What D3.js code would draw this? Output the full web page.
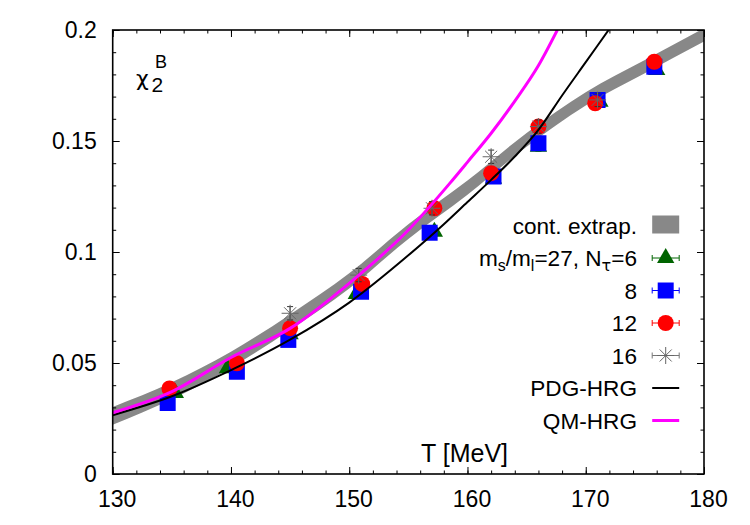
<!DOCTYPE html>
<html>
<head>
<meta charset="utf-8">
<script src="https://cdn.jsdelivr.net/npm/d3@7"></script>
<style>
  body { margin: 0; background: #fff; }
  svg { display: block; font-family: "Liberation Sans", Arial, Helvetica, sans-serif; }
</style>
</head>
<body>
<svg id="chart" width="750" height="525"></svg>
<script>
// ---------------- data ----------------
const xTicks = [130, 140, 150, 160, 170, 180];
const yTicks = [0, 0.05, 0.1, 0.15, 0.2];

// continuum extrapolation band
const bandT     = [130, 135, 140, 145, 150, 155, 160, 165, 170, 175, 180];
const bandMid   = [0.0262, 0.0375, 0.0515, 0.0684, 0.0870, 0.1092, 0.1290, 0.1505, 0.1690, 0.1835, 0.1978];
const bandHalf  = [0.0040, 0.0038, 0.0036, 0.0035, 0.0034, 0.0033, 0.0032, 0.0031, 0.0030, 0.0030, 0.0030];

// Ntau = 6 (green triangles)
const t6 = [135.3, 139.7, 145.0, 150.6, 157.2, 162.2, 166.0, 171.2, 176.0];
const v6 = [0.0365, 0.0476, 0.0630, 0.0811, 0.1091, 0.1330, 0.1474, 0.1677, 0.1820];
const e6 = [0.0015, 0.0015, 0.0018, 0.0018, 0.0020, 0.0020, 0.0020, 0.0020, 0.0020];
// Ntau = 8 (blue squares)
const t8 = [134.65, 140.5, 144.85, 151.0, 156.8, 162.2, 166.0, 171.0, 175.8];
const v8 = [0.0320, 0.0461, 0.0604, 0.0821, 0.1087, 0.1340, 0.1490, 0.1685, 0.1835];
const e8 = [0.0012, 0.0012, 0.0015, 0.0015, 0.0018, 0.0018, 0.0020, 0.0020, 0.0020];
// Ntau = 12 (red circles)
const t12 = [134.8, 140.5, 145.0, 151.1, 157.2, 162.0, 166.0, 170.8, 175.8];
const v12 = [0.0385, 0.0499, 0.0657, 0.0856, 0.1197, 0.1355, 0.1565, 0.1670, 0.1857];
const e12 = [0.0015, 0.0015, 0.0018, 0.0018, 0.0020, 0.0020, 0.0020, 0.0020, 0.0020];
// Ntau = 16 (stars)
const t16 = [145.0, 150.8, 157.0, 162.0, 166.0, 171.0];
const v16 = [0.0724, 0.0896, 0.1197, 0.1429, 0.1565, 0.1685];
const e16 = [0.0030, 0.0030, 0.0030, 0.0030, 0.0030, 0.0030];

// PDG-HRG (black)
const pdgT = [130, 135, 140, 145, 150, 155, 158, 160, 162, 164, 166, 168, 170, 172];
const pdgV = [0.0265, 0.0350, 0.0468, 0.0605, 0.0772, 0.0985, 0.1125, 0.1225, 0.1325, 0.1430, 0.1550, 0.1705, 0.1855, 0.2005];
// QM-HRG (magenta)
const qmT = [130, 135, 140, 145, 150, 155, 158.5, 160, 162, 164, 166, 167.6];
const qmV = [0.0276, 0.0371, 0.0525, 0.0656, 0.0859, 0.1099, 0.1309, 0.1405, 0.1535, 0.1680, 0.1840, 0.2000];

// ---------------- layout ----------------
const svg = d3.select("#chart");
const L = 112.7, R = 704, T = 30, B = 474;
const x = d3.scaleLinear().domain([130, 180]).range([L, R]);
const y = d3.scaleLinear().domain([0, 0.2]).range([B, T]);

const zip = (a, b, c) => a.map((d, i) => ({ t: d, v: b[i], e: c ? c[i] : 0 }));

// clip
svg.append("defs").append("clipPath").attr("id", "clip")
  .append("rect").attr("x", L).attr("y", T).attr("width", R - L).attr("height", B - T);

const plot = svg.append("g").attr("clip-path", "url(#clip)");

// band
const band = bandT.map((t, i) => ({ t, lo: bandMid[i] - bandHalf[i], hi: bandMid[i] + bandHalf[i] }));
plot.append("path").datum(band)
  .attr("fill", "#888888")
  .attr("d", d3.area().x(d => x(d.t)).y0(d => y(d.lo)).y1(d => y(d.hi)).curve(d3.curveMonotoneX));

// star symbol (8 arms)
const star8 = {
  draw(ctx, size) {
    const r = Math.sqrt(size) / 2;
    const k = r * Math.SQRT1_2;
    ctx.moveTo(-r, 0); ctx.lineTo(r, 0);
    ctx.moveTo(0, -r); ctx.lineTo(0, r);
    ctx.moveTo(-k, -k); ctx.lineTo(k, k);
    ctx.moveTo(-k, k); ctx.lineTo(k, -k);
  }
};

const series = [
  { data: zip(t6, v6, e6),   type: d3.symbolTriangle, size: 130, fill: "#006400", stroke: "none", ebar: "#006400" },
  { data: zip(t8, v8, e8),   type: d3.symbolSquare,   size: 256, fill: "#0000ff", stroke: "none", ebar: "#0000ff" },
  { data: zip(t12, v12, e12),type: d3.symbolCircle,   size: 201, fill: "#ff0000", stroke: "none", ebar: "#ff0000" },
  { data: zip(t16, v16, e16),type: star8,             size: 289, fill: "none",    stroke: "#666666", ebar: "#333333" }
];

const cap = 3;
series.forEach(s => {
  const g = plot.append("g");
  const eb = g.selectAll("g.eb").data(s.data).join("g").attr("class", "eb")
    .attr("stroke", s.ebar).attr("stroke-width", 1);
  eb.append("line").attr("x1", d => x(d.t)).attr("x2", d => x(d.t))
    .attr("y1", d => y(d.v - d.e)).attr("y2", d => y(d.v + d.e));
  eb.append("line").attr("x1", d => x(d.t) - cap).attr("x2", d => x(d.t) + cap)
    .attr("y1", d => y(d.v - d.e)).attr("y2", d => y(d.v - d.e));
  eb.append("line").attr("x1", d => x(d.t) - cap).attr("x2", d => x(d.t) + cap)
    .attr("y1", d => y(d.v + d.e)).attr("y2", d => y(d.v + d.e));
  g.selectAll("path.pt").data(s.data).join("path").attr("class", "pt")
    .attr("transform", d => `translate(${x(d.t)},${y(d.v)})`)
    .attr("d", d3.symbol().type(s.type).size(s.size))
    .attr("fill", s.fill).attr("stroke", s.stroke).attr("stroke-width", 1);
});

// HRG lines
plot.append("path").datum(zip(pdgT, pdgV))
  .attr("fill", "none").attr("stroke", "#000").attr("stroke-width", 2)
  .attr("d", d3.line().x(d => x(d.t)).y(d => y(d.v)).curve(d3.curveMonotoneX));
plot.append("path").datum(zip(qmT, qmV))
  .attr("fill", "none").attr("stroke", "#ff00ff").attr("stroke-width", 3)
  .attr("d", d3.line().x(d => x(d.t)).y(d => y(d.v)).curve(d3.curveMonotoneX));

// ---------------- axes ----------------
const fmt = d3.format("~g");
const minorX = d3.range(130, 181, 2);
const minorY = d3.range(0, 0.2001, 0.01);

function styleAxis(g) {
  g.select(".domain").remove();
  g.selectAll("line").attr("stroke", "#000").attr("stroke-width", 1);
  g.selectAll("text").attr("font-size", 23).attr("fill", "#000")
    .attr("font-family", "'Liberation Sans', Arial, sans-serif");
}

// bottom
svg.append("g").attr("transform", `translate(0,${B})`)
  .call(d3.axisBottom(x).tickValues(xTicks).tickFormat(fmt).tickSize(-7).tickPadding(16.5))
  .call(styleAxis).call(g => g.selectAll("text").attr("dx", 4));
svg.append("g").attr("transform", `translate(0,${B})`)
  .call(d3.axisBottom(x).tickValues(minorX).tickFormat("").tickSize(-3.5)).call(styleAxis);
// top
svg.append("g").attr("transform", `translate(0,${T})`)
  .call(d3.axisTop(x).tickValues(xTicks).tickFormat("").tickSize(-7)).call(styleAxis);
svg.append("g").attr("transform", `translate(0,${T})`)
  .call(d3.axisTop(x).tickValues(minorX).tickFormat("").tickSize(-3.5)).call(styleAxis);
// left
svg.append("g").attr("transform", `translate(${L},0)`)
  .call(d3.axisLeft(y).tickValues(yTicks).tickFormat(fmt).tickSize(-7).tickPadding(16))
  .call(styleAxis);
svg.append("g").attr("transform", `translate(${L},0)`)
  .call(d3.axisLeft(y).tickValues(minorY).tickFormat("").tickSize(-3.5)).call(styleAxis);
// right
svg.append("g").attr("transform", `translate(${R},0)`)
  .call(d3.axisRight(y).tickValues(yTicks).tickFormat("").tickSize(-7)).call(styleAxis);
svg.append("g").attr("transform", `translate(${R},0)`)
  .call(d3.axisRight(y).tickValues(minorY).tickFormat("").tickSize(-3.5)).call(styleAxis);

// frame
svg.append("rect").attr("x", L).attr("y", T).attr("width", R - L).attr("height", B - T)
  .attr("fill", "none").attr("stroke", "#000").attr("stroke-width", 1.6);

// axis title
svg.append("text").attr("x", 421).attr("y", 461.5).attr("font-size", 25).text("T [MeV]");

// chi label
const chi = svg.append("g");
chi.append("text").attr("x", 136).attr("y", 86).attr("font-size", 22)
  .attr("font-family", "'DejaVu Sans', sans-serif").text("χ");
chi.append("text").attr("x", 151.5).attr("y", 92).attr("font-size", 21).text("2");
chi.append("text").attr("x", 155).attr("y", 68).attr("font-size", 18).text("B");

// ---------------- legend ----------------
const lg = svg.append("g");
const lx = 665.7, ltx = 637, ly0 = 225.5, ldy = 32.5, lw = 27;
const rows = ["band", "s6", "s8", "s12", "s16", "pdg", "qm"];

// labels
const labelText = [null, null, "8", "12", "16", "PDG-HRG", "QM-HRG"];
rows.forEach((r, i) => {
  const cy = ly0 + i * ldy;
  if (i === 0) {
    lg.append("text").attr("x", ltx).attr("y", cy + 8.3).attr("font-size", 22.6)
      .attr("text-anchor", "end").text("cont. extrap.");
  } else if (i === 1) {
    const t = lg.append("text").attr("x", ltx).attr("y", cy + 8.3).attr("font-size", 22.6)
      .attr("text-anchor", "end");
    t.append("tspan").text("m");
    t.append("tspan").attr("font-size", 16).attr("dy", 5).text("s");
    t.append("tspan").attr("dy", -5).text("/m");
    t.append("tspan").attr("font-size", 16).attr("dy", 5).text("l");
    t.append("tspan").attr("dy", -5).text("=27, N");
    t.append("tspan").attr("font-size", 16).attr("dy", 5)
      .attr("font-family", "'DejaVu Sans', sans-serif").text("τ");
    t.append("tspan").attr("dy", -5).text("=6");
  } else {
    lg.append("text").attr("x", ltx).attr("y", cy + 8.3).attr("font-size", 22.6)
      .attr("text-anchor", "end").text(labelText[i]);
  }
});

// samples
lg.append("rect").attr("x", lx - lw / 2).attr("y", ly0 - 10).attr("width", lw).attr("height", 18)
  .attr("fill", "#888888");
series.forEach((s, k) => {
  const cy = ly0 + (k + 1) * ldy;
  const g = lg.append("g").attr("stroke", s.ebar === "#333333" ? "#777777" : s.ebar).attr("stroke-width", 1);
  g.append("line").attr("x1", lx - lw / 2).attr("x2", lx + lw / 2).attr("y1", cy).attr("y2", cy);
  g.append("line").attr("x1", lx - lw / 2).attr("x2", lx - lw / 2).attr("y1", cy - 3).attr("y2", cy + 3);
  g.append("line").attr("x1", lx + lw / 2).attr("x2", lx + lw / 2).attr("y1", cy - 3).attr("y2", cy + 3);
  lg.append("path").attr("transform", `translate(${lx},${cy})`)
    .attr("d", d3.symbol().type(s.type).size(s.size)())
    .attr("fill", s.fill).attr("stroke", s.stroke).attr("stroke-width", 1);
});
lg.append("line").attr("x1", lx - lw / 2).attr("x2", lx + lw / 2)
  .attr("y1", ly0 + 5 * ldy).attr("y2", ly0 + 5 * ldy).attr("stroke", "#000").attr("stroke-width", 2);
lg.append("line").attr("x1", lx - lw / 2).attr("x2", lx + lw / 2)
  .attr("y1", ly0 + 6 * ldy).attr("y2", ly0 + 6 * ldy).attr("stroke", "#ff00ff").attr("stroke-width", 3);
</script>
</body>
</html>
